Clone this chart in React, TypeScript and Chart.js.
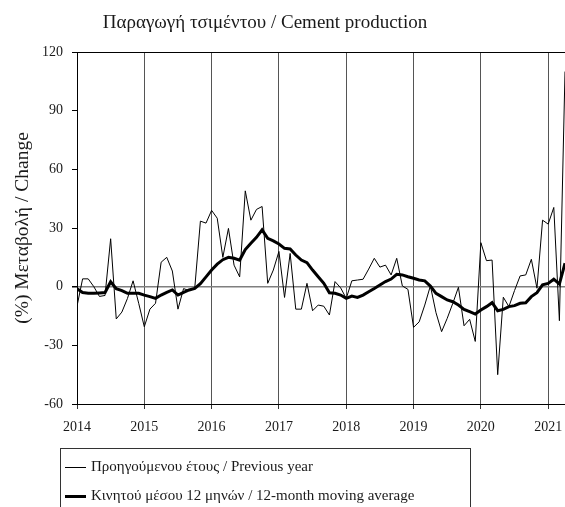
import { useEffect, useRef } from "react";
import { Chart, registerables } from "chart.js";

Chart.register(...registerables);

const startYear = 2014;

// Monthly % change vs. same month of previous year, Jan 2014 – Apr 2021
const previousYear: number[] = [
  // 2014
  -10, 4, 4, 0, -5, -4.5, 24.5, -16.5, -13, -6, 3, -8.5,
  // 2015
  -20.5, -11.5, -8.5, 12.5, 15, 8, -11.5, -1, -2, -0.5, 33.5, 32.5,
  // 2016
  39, 35, 15, 29.8, 11, 5, 49, 34, 39.5, 41, 1.7, 8.5,
  // 2017
  18, -5.5, 17, -11.5, -11.5, 1.7, -12.3, -9.4, -10, -14.5, 2.6, -0.6,
  // 2018
  -6, 3, 3.4, 3.8, 9, 14.5, 10, 11, 6, 14.5, 0.4, -1.4,
  // 2019
  -20.8, -18, -9.4, 0.4, -13.3, -23, -16.2, -8.5, -0.3, -20, -16.7, -28,
  // 2020
  22.5, 13.3, 13.6, -45, -5.4, -10.2, -2, 5.5, 6, 14, -0.8, 34,
  // 2021
  32, 40.5, -17.4, 110,
];

// 12-month moving average
const movingAverage: number[] = [
  // 2014
  -1, -3, -3.4, -3.4, -3.2, -3, 2.5, -1, -2, -3.4, -3.4, -3.4,
  // 2015
  -4.3, -5.1, -6, -4.3, -2.9, -1.7, -4.3, -2.9, -1.7, -0.9, 1.5, 5,
  // 2016
  8.5, 11.5, 13.8, 15, 14.5, 13.6, 19, 22.2, 25.2, 29, 24.7, 23.4,
  // 2017
  21.8, 19.6, 19.3, 16.2, 13.6, 12.3, 8.5, 5.1, 1.7, -3.1, -3.4, -4.3,
  // 2018
  -6, -4.8, -5.5, -4.3, -2.6, -0.9, 0.9, 2.6, 3.9, 6.3, 6, 5.1,
  // 2019
  4.3, 3.4, 3, 0.3, -3.4, -5.1, -6.8, -7.7, -9.4, -11.6, -12.8, -14,
  // 2020
  -11.9, -10.2, -8.2, -12.3, -11.6, -10.2, -9.7, -8.5, -8.2, -5.1, -3.1, 0.9,
  // 2021
  1.7, 3.8, 1.3, 12,
];

const yMin = -60;
const yMax = 120;
const yStep = 30;
const xMin = 2014;
const xMax = 2021.25;

const titleText = "Παραγωγή τσιμέντου / Cement production";
const yAxisTitle = "(%) Μεταβολή / Change";
const seriesLabels = [
  "Προηγούμενου έτους / Previous year",
  "Κινητού μέσου 12 μηνών / 12-month moving average",
];

const FONT = "'Liberation Serif', 'DejaVu Serif', serif";

export default function App() {
  const ref = useRef<HTMLCanvasElement>(null);

  useEffect(() => {
    document.body.style.margin = "0";
    const canvas = ref.current;
    if (!canvas) return;

    const toPoints = (arr: number[]) =>
      arr.map((v, i) => ({ x: startYear + i / 12, y: v }));

    const decor = {
      id: "decor",
      afterDraw(chart: any) {
        const c = chart.ctx as CanvasRenderingContext2D;
        const a = chart.chartArea;
        c.save();
        // top border of plot
        c.strokeStyle = "#000";
        c.lineWidth = 1;
        c.beginPath();
        c.moveTo(a.left, Math.round(a.top) + 0.5);
        c.lineTo(a.right, Math.round(a.top) + 0.5);
        c.stroke();

        // title
        c.fillStyle = "#1a1a1a";
        c.font = `19px ${FONT}`;
        c.textAlign = "center";
        c.textBaseline = "middle";
        c.fillText(titleText, 265, 23);

        // legend box
        c.strokeStyle = "#333";
        c.lineWidth = 1;
        c.strokeRect(60.5, 448.5, 410, 80);
        const ds = chart.data.datasets;
        const rows = [467.5, 496.5];
        c.font = `15px ${FONT}`;
        c.textAlign = "left";
        ds.forEach((d: any, i: number) => {
          const y = rows[i];
          c.strokeStyle = d.borderColor;
          c.lineWidth = d.borderWidth;
          c.beginPath();
          c.moveTo(65, y);
          c.lineTo(86, y);
          c.stroke();
          c.fillStyle = "#1a1a1a";
          c.fillText(d.label, 91, y);
        });
        c.restore();
      },
    };

    const chart = new Chart(canvas, {
      type: "line",
      data: {
        datasets: [
          {
            label: seriesLabels[0],
            data: toPoints(previousYear),
            borderColor: "#000",
            borderWidth: 1,
            pointRadius: 0,
            tension: 0,
          },
          {
            label: seriesLabels[1],
            data: toPoints(movingAverage),
            borderColor: "#000",
            borderWidth: 3,
            pointRadius: 0,
            tension: 0,
          },
        ],
      },
      options: {
        responsive: false,
        animation: false,
        layout: { padding: { top: 52, bottom: 63, left: 0, right: 0 } },
        plugins: {
          legend: { display: false },
          title: { display: false },
          tooltip: { enabled: false },
        },
        scales: {
          x: {
            type: "linear",
            min: xMin,
            max: xMax,
            afterFit: (s: any) => {
              s.height = 40;
              s.paddingLeft = 0;
              s.paddingRight = 0;
            },
            border: { display: true, color: "#000", width: 1 },
            grid: {
              display: true,
              drawOnChartArea: true,
              drawTicks: true,
              tickLength: 5,
              color: "#555",
              tickColor: "#333",
              lineWidth: 1,
            },
            ticks: {
              stepSize: 1,
              includeBounds: false,
              autoSkip: false,
              maxRotation: 0,
              padding: 10,
              color: "#1a1a1a",
              font: { family: FONT, size: 14 },
              callback: (v: any) => String(v),
            },
          },
          y: {
            min: yMin,
            max: yMax,
            afterFit: (s: any) => {
              s.width = 77;
              s.paddingTop = 0;
              s.paddingBottom = 0;
            },
            border: { display: true, color: "#000", width: 1 },
            grid: {
              display: true,
              drawOnChartArea: true,
              drawTicks: true,
              tickLength: 5,
              color: (ctx: any) =>
                ctx.tick && ctx.tick.value === 0 ? "#7f7f7f" : "rgba(0,0,0,0)",
              lineWidth: (ctx: any) => (ctx.tick && ctx.tick.value === 0 ? 1.5 : 1),
              tickColor: "#000",
            },
            ticks: {
              stepSize: yStep,
              padding: 9,
              color: "#1a1a1a",
              font: { family: FONT, size: 14 },
            },
            title: {
              display: true,
              text: yAxisTitle,
              color: "#1a1a1a",
              font: { family: FONT, size: 19.5 },
              padding: { top: 11, bottom: 0 },
            },
          },
        },
      },
      plugins: [decor],
    });

    return () => chart.destroy();
  }, []);

  return (
    <div style={{ position: "absolute", left: 0, top: 0, width: 565, height: 507 }}>
      <canvas ref={ref} width={565} height={507} />
    </div>
  );
}
